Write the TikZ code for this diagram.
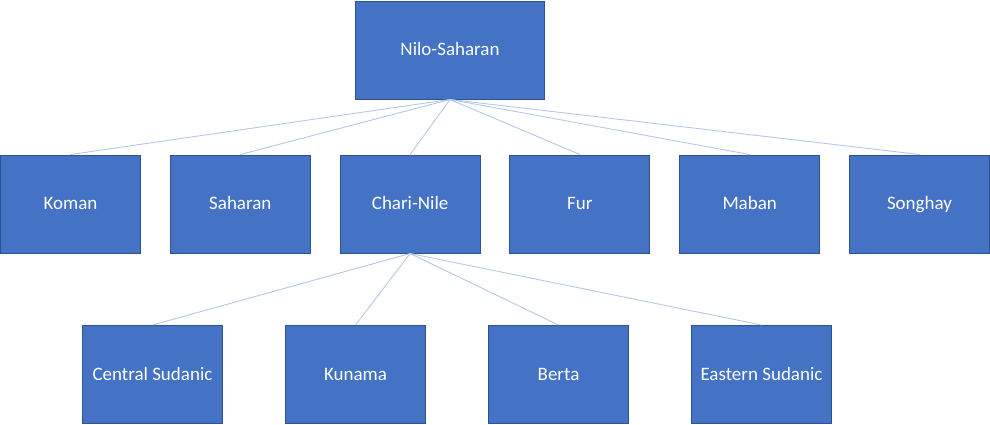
\documentclass[tikz,border=0pt]{standalone}
\usepackage{fontspec}
\setmainfont{Carlito}
\usetikzlibrary{positioning}
\definecolor{cajaazul}{HTML}{4472C4}
\definecolor{bordeazul}{HTML}{2F528F}
\definecolor{lineaazul}{HTML}{B4C7E7}
\begin{document}
\begin{tikzpicture}[x=1pt,y=-1pt,node distance=28.8pt,
  lang node/.style={rectangle,draw=bordeazul,line width=1pt,fill=cajaazul,text=white,
    font=\fontsize{19}{22}\selectfont,text height=1.15em,text depth=0em,
    minimum width=140pt,minimum height=98pt,inner sep=0pt},
  rama/.style={draw=lineaazul,line width=0.9pt}]
				\useasboundingbox (0,0) rectangle (990,424);
				
				% Definición de los nodos
				\node[lang node,minimum width=189pt] (nilo) at (450,50) {Nilo-Saharan};
				\node[lang node] (koman) at (70.5,204) {Koman};
				\node[lang node] (saharan) [right=of koman] {Saharan};
				\node[lang node] (chari) [right=of saharan] {Chari-Nile};
				\node[lang node] (fur) [right=of chari] {Fur};
				\node[lang node] (maban) [right=of fur] {Maban};
				\node[lang node] (songhay) [right=of maban] {Songhay};
				
				% Subgrupos de Chari-Nile
				\node[lang node] (central) at (152.5,374.5) {Central Sudanic};
				\node[lang node] (kunama) [right=62pt of central] {Kunama};
				\node[lang node] (berta) [right=62pt of kunama] {Berta};
				\node[lang node] (eastern) [right=62pt of berta] {Eastern Sudanic};
				
				% Conexiones
				\foreach \hijo in {koman,saharan,chari,fur,maban,songhay}
				\draw[rama] (nilo.south) -- (\hijo.north);
				\foreach \hijo in {central,kunama,berta,eastern}
				\draw[rama] (chari.south) -- (\hijo.north);
			\end{tikzpicture}
\end{document}
